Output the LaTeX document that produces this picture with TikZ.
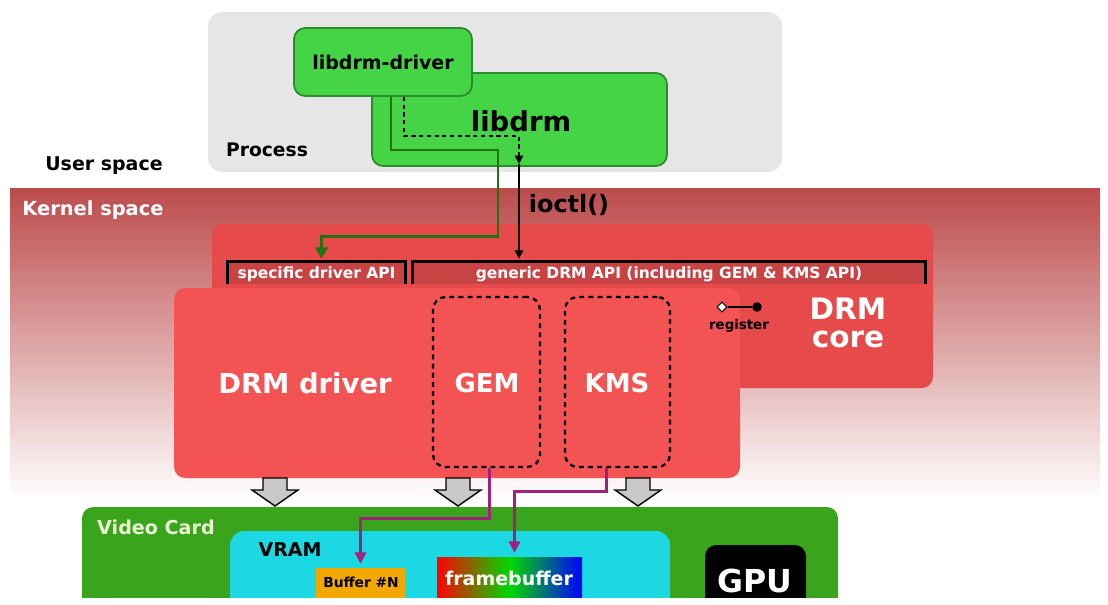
\documentclass[tikz,border=0pt]{standalone}
\usepackage{fontspec}
\setmainfont{DejaVu Sans}
\usetikzlibrary{positioning, fit, calc, arrows.meta, shapes.geometric}

\definecolor{procgray}{HTML}{E6E6E6}
\definecolor{libgreen}{HTML}{45D445}
\definecolor{libedge}{HTML}{2E8A2E}
\definecolor{kernred}{HTML}{BC4B4B}
\definecolor{corered}{HTML}{E64A4A}
\definecolor{drvred}{HTML}{F45353}
\definecolor{apired}{HTML}{C84444}
\definecolor{cardgreen}{HTML}{3AA51C}
\definecolor{vramcyan}{HTML}{1CD8E2}
\definecolor{bufgold}{HTML}{F2A800}
\definecolor{arrgray}{HTML}{C8C8C8}
\definecolor{pathgreen}{HTML}{287010}
\definecolor{pathpurple}{HTML}{A2207E}
\definecolor{cardtext}{HTML}{EAF4D2}

\newcommand{\fsz}[1]{\fontsize{#1}{#1}\selectfont\bfseries}

\begin{document}
\begin{tikzpicture}[x=0.025cm, y=-0.025cm]
	\tikzset{
		area/.style={inner sep=0pt, rounded corners=8pt},
		libbox/.style={area, fill=libgreen, draw=libedge, line width=1.3pt},
		apibar/.style={inner sep=0pt, fill=apired},
		apiline/.style={line width=2pt, black},
		subsys/.style={area, draw=black, line width=1.6pt, dash pattern=on 3.5pt off 3pt, rounded corners=9pt},
		lbl/.style={inner sep=0pt, text=white},
		drvpath/.style={line width=1.9pt, pathgreen, -{Triangle[length=8pt, width=9pt, fill=green!60!black]}},
		callpath/.style={line width=1.4pt, black, -{Triangle[length=6pt, width=6pt]}},
		mempath/.style={line width=1.8pt, pathpurple, -{Triangle[length=8pt, width=8pt]}},
	}
	\useasboundingbox (0,0) rectangle (1108,604);
	\clip (0,0) rectangle (1108,597);

	% kernel band
	\shade[top color=kernred, bottom color=white] (10,188) rectangle (1100,500);

	% user space
	\node[area, fill=procgray, rounded corners=10pt, fit={(208,12) (782,172)}] (proc) {};
	\node[libbox, fit={(372,73) (667,166)}] (lib) {};
	\node[libbox, fit={(294,28) (472,96)}] (drv) {};

	% kernel space
	\node[area, fill=corered, fit={(212,224) (933,388)}] (core) {};
	\node[apibar, fit={(228,262) (405,284)}] (spec) {};
	\node[apibar, fit={(413,262) (925,284)}] (gen) {};
	\draw[apiline] (spec.south west) -- (spec.north west) -- (spec.north east) -- (spec.south east);
	\draw[apiline] (gen.south west) -- (gen.north west) -- (gen.north east) -- (gen.south east);
	\node[area, fill=drvred, fit={(174,288) (740,478)}] (drm) {};
	\node[subsys, fit={(433,297) (540,467)}] (gem) {};
	\node[subsys, fit={(565,297) (670,467)}] (kms) {};

	\node[diamond, draw=black, fill=white, line width=0.8pt, inner sep=1.8pt] (regd) at (722,307) {};
	\node[circle, fill=black, inner sep=2.4pt] (regc) at (757,307) {};
	\draw[line width=1.6pt] (regd) -- (regc);

	\foreach \ax in {275,458,638}
		\draw[fill=arrgray, line width=1pt, line join=miter]
			(\ax-12,478) -- (\ax+12,478) -- (\ax+12,490) -- (\ax+23,490)
			-- (\ax,506) -- (\ax-23,490) -- (\ax-12,490) -- cycle;

	% video card
	\node[area, fill=cardgreen, fit={(82,507) (838,640)}] (card) {};
	\node[area, fill=vramcyan, rounded corners=10pt, fit={(230,531) (670,640)}] (vram) {};
	\node[inner sep=0pt, fill=bufgold, fit={(316,568) (405,640)}] (buf) {};
	\node[inner sep=0pt, fit={(437,557) (582,640)},
		path picture={\shade[left color=red, right color=blue, middle color=green!85!black]
			(path picture bounding box.south west) rectangle (path picture bounding box.north east);}] (fb) {};
	\node[area, fill=black, fit={(705,545) (806,640)}] (gpu) {};

	% connectors
	\draw[drvpath] ($(drv.south)+(8,0)$) |- (498,150) |- ($(spec.north)+(5,-25)$)
		-- ($(spec.north)+(5,-3)$);
	\coordinate (tap) at (519,164);
	\draw[line width=1.4pt, dash pattern=on 3pt off 2.5pt, -{Triangle[length=6pt, width=6pt]}]
		($(drv.south)+(21,0)$) |- (519,136) -- (tap);
	\draw[callpath] (tap) -- ($(tap |- gen.north)+(0,-3)$);
	\draw[mempath] ($(gem.south)+(3,0)$) |- ($(buf.north)+(0,-49)$) -- ($(buf.north)+(0,-4)$);
	\draw[mempath] ($(kms.south)+(-11,0)$) |- ($(fb.north)+(5,-65)$) -- ($(fb.north)+(5,-4)$);

	% labels
	\node[inner sep=0pt] (drvtxt) at (drv.center) {\fsz{13.5}libdrm-driver};
	\node[inner sep=0pt] (libtxt) at (521,121) {\fsz{19.5}libdrm};
	\node[inner sep=0pt] (proctxt) at (267,150) {\fsz{13.3}Process};
	\node[inner sep=0pt] (user) at (104,166) {\fsz{13.5}User space};
	\node[lbl] (kern) at (93,210) {\fsz{13.8}Kernel space};
	\node[inner sep=0pt] (ioctl) at (569,205) {\fsz{17}ioctl()};
	\node[lbl] (spectxt) at ($(spec.center)+(0,1)$) {\fsz{11}specific driver API};
	\node[lbl] (gentxt) at ($(gen.center)+(0,1)$) {\fsz{11}generic DRM API (including GEM \& KMS API)};
	\node[inner sep=0pt] (regtxt) at (739,326) {\fsz{9.5}register};
	\node[lbl, anchor=base] (coretop) at (848,319) {\fsz{21}DRM};
	\node[lbl, anchor=base] (corebot) at (848,347) {\fsz{21}core};
	\node[lbl] (drmtxt) at (305,383) {\fsz{19.5}DRM driver};
	\node[lbl] (gemtxt) at (487,383) {\fsz{18.5}GEM};
	\node[lbl] (kmstxt) at (617,383) {\fsz{18.5}KMS};
	\node[inner sep=0pt, text=cardtext] (cardtxt) at (156,527) {\fsz{13.6}Video Card};
	\node[inner sep=0pt] (vramtxt) at (290,550) {\fsz{13.5}VRAM};
	\node[inner sep=0pt] (buftxt) at (361,582) {\fsz{9.8}Buffer \#N};
	\node[lbl] (fbtxt) at (509,578) {\fsz{13.5}framebuffer};
	\node[lbl] (gputxt) at (755,581) {\fsz{22.5}GPU};
\end{tikzpicture}
\end{document}
